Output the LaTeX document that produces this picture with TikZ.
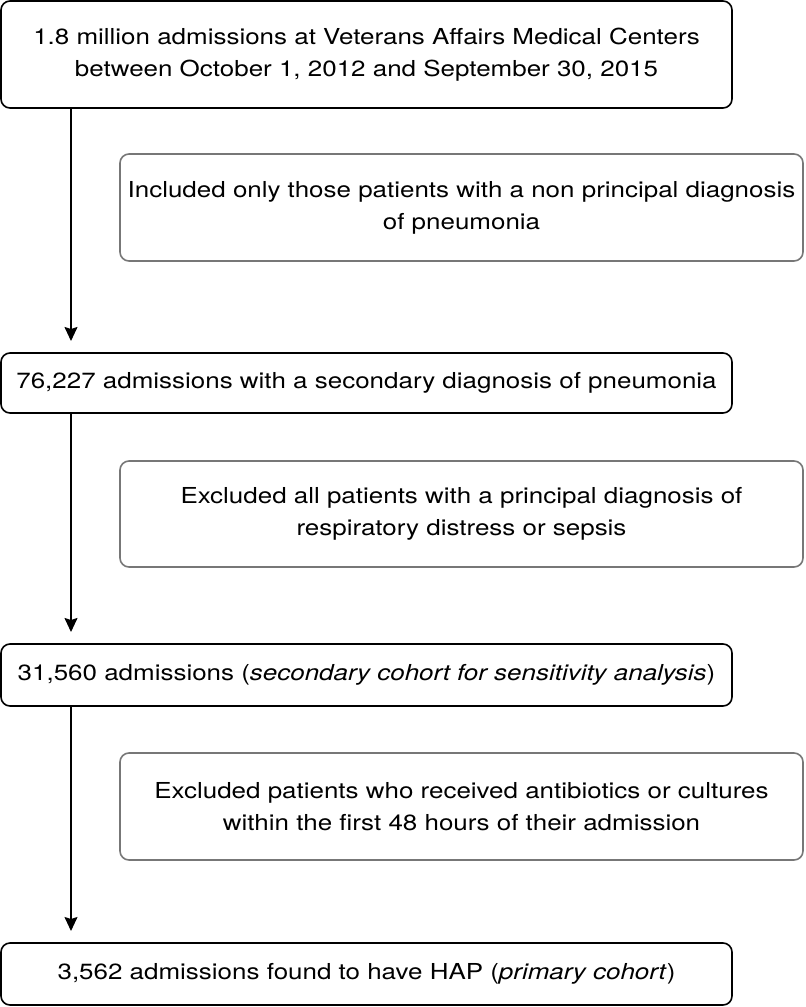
\documentclass[tikz,border=0pt]{standalone}
\usepackage{fontspec}
\setmainfont{TeX Gyre Heros}[FakeStretch=1.18]
\usetikzlibrary{arrows.meta}
\definecolor{sidegray}{HTML}{777777}
\begin{document}
\begin{tikzpicture}[x=1pt,y=-1pt,
  mainbox/.style={draw=black, line width=1.6pt, rounded corners=9pt, minimum width=731pt, align=center, inner sep=0pt, font=\fontsize{22}{32}\selectfont},
  sidebox/.style={draw=sidegray, line width=1.6pt, rounded corners=9pt, minimum width=683pt, minimum height=107pt, align=center, inner sep=0pt, font=\fontsize{22}{32}\selectfont},
  arr/.style={line width=1.4pt, -{Stealth[length=14pt,width=13pt,inset=2pt]}}]
\useasboundingbox (0,0) rectangle (806,1007);
\node[mainbox, minimum height=107pt] (b1) at (366.5,54.5) {1.8 million admissions at Veterans Affairs Medical Centers\\between October 1, 2012 and September 30, 2015};
\node[sidebox] (s1) at (461.5,207.5) {Included only those patients with a non principal diagnosis\\of pneumonia};
\node[mainbox, minimum height=60pt] (b2) at (366.5,383) {76,227 admissions with a secondary diagnosis of pneumonia};
\node[sidebox, minimum height=106pt] (s2) at (461.5,514) {Excluded all patients with a principal diagnosis of\\respiratory distress or sepsis};
\node[mainbox, minimum height=62pt] (b3) at (366.5,675) {31,560 admissions (\textit{secondary cohort for sensitivity analysis})};
\node[sidebox] (s3) at (461.5,806.5) {Excluded patients who received antibiotics or cultures\\within the first 48 hours of their admission};
\node[mainbox, minimum height=62pt] (b4) at (366.5,974) {3,562 admissions found to have HAP (\textit{primary cohort})};
\coordinate (t1) at (71,341);
\coordinate (t2) at (71,632);
\coordinate (t3) at (71,931);
\draw[arr] (b1.south -| t1) -- (t1);
\draw[arr] (b2.south -| t2) -- (t2);
\draw[arr] (b3.south -| t3) -- (t3);
\end{tikzpicture}
\end{document}
